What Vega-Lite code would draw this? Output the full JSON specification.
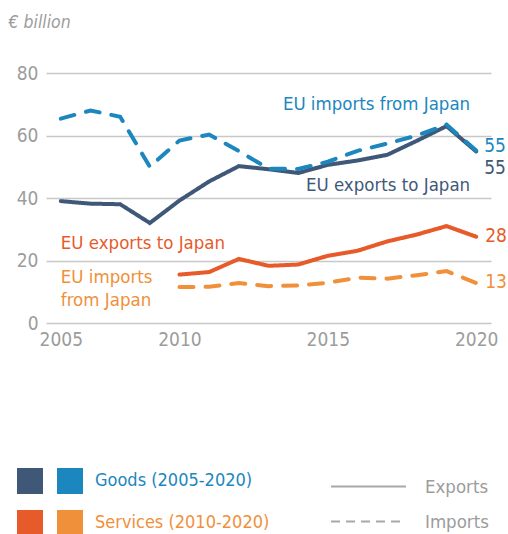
{
  "$schema": "https://vega.github.io/schema/vega-lite/v6.json",
  "width": 445,
  "height": 250,
  "autosize": {"type": "none"},
  "padding": {"left": 46, "top": 73, "right": 17, "bottom": 211},
  "background": "white",
  "config": {
    "font": "DejaVu Sans Condensed, sans-serif",
    "view": {"stroke": null}
  },
  "data": {
    "values": [
      {"product": "Goods (2005-2020)", "flow": "Exports", "series": "Goods exports", "year": 2005, "value": 39},
      {"product": "Goods (2005-2020)", "flow": "Exports", "series": "Goods exports", "year": 2006, "value": 38.2},
      {"product": "Goods (2005-2020)", "flow": "Exports", "series": "Goods exports", "year": 2007, "value": 38},
      {"product": "Goods (2005-2020)", "flow": "Exports", "series": "Goods exports", "year": 2009, "value": 32},
      {"product": "Goods (2005-2020)", "flow": "Exports", "series": "Goods exports", "year": 2010, "value": 39.2},
      {"product": "Goods (2005-2020)", "flow": "Exports", "series": "Goods exports", "year": 2011, "value": 45.3},
      {"product": "Goods (2005-2020)", "flow": "Exports", "series": "Goods exports", "year": 2012, "value": 50.2},
      {"product": "Goods (2005-2020)", "flow": "Exports", "series": "Goods exports", "year": 2013, "value": 49.2},
      {"product": "Goods (2005-2020)", "flow": "Exports", "series": "Goods exports", "year": 2014, "value": 48},
      {"product": "Goods (2005-2020)", "flow": "Exports", "series": "Goods exports", "year": 2015, "value": 50.6},
      {"product": "Goods (2005-2020)", "flow": "Exports", "series": "Goods exports", "year": 2016, "value": 52},
      {"product": "Goods (2005-2020)", "flow": "Exports", "series": "Goods exports", "year": 2017, "value": 53.8},
      {"product": "Goods (2005-2020)", "flow": "Exports", "series": "Goods exports", "year": 2018, "value": 58.3},
      {"product": "Goods (2005-2020)", "flow": "Exports", "series": "Goods exports", "year": 2019, "value": 63},
      {"product": "Goods (2005-2020)", "flow": "Exports", "series": "Goods exports", "year": 2020, "value": 54.9},
      {"product": "Goods (2005-2020)", "flow": "Imports", "series": "Goods imports", "year": 2005, "value": 65.4},
      {"product": "Goods (2005-2020)", "flow": "Imports", "series": "Goods imports", "year": 2006, "value": 68},
      {"product": "Goods (2005-2020)", "flow": "Imports", "series": "Goods imports", "year": 2007, "value": 66},
      {"product": "Goods (2005-2020)", "flow": "Imports", "series": "Goods imports", "year": 2009, "value": 50},
      {"product": "Goods (2005-2020)", "flow": "Imports", "series": "Goods imports", "year": 2010, "value": 58.4},
      {"product": "Goods (2005-2020)", "flow": "Imports", "series": "Goods imports", "year": 2011, "value": 60.3},
      {"product": "Goods (2005-2020)", "flow": "Imports", "series": "Goods imports", "year": 2012, "value": 55},
      {"product": "Goods (2005-2020)", "flow": "Imports", "series": "Goods imports", "year": 2013, "value": 49.4},
      {"product": "Goods (2005-2020)", "flow": "Imports", "series": "Goods imports", "year": 2014, "value": 49.3},
      {"product": "Goods (2005-2020)", "flow": "Imports", "series": "Goods imports", "year": 2015, "value": 51.6},
      {"product": "Goods (2005-2020)", "flow": "Imports", "series": "Goods imports", "year": 2016, "value": 55.1},
      {"product": "Goods (2005-2020)", "flow": "Imports", "series": "Goods imports", "year": 2017, "value": 57.4},
      {"product": "Goods (2005-2020)", "flow": "Imports", "series": "Goods imports", "year": 2018, "value": 60},
      {"product": "Goods (2005-2020)", "flow": "Imports", "series": "Goods imports", "year": 2019, "value": 63.5},
      {"product": "Goods (2005-2020)", "flow": "Imports", "series": "Goods imports", "year": 2020, "value": 55.2},
      {"product": "Services (2010-2020)", "flow": "Exports", "series": "Services exports", "year": 2010, "value": 15.5},
      {"product": "Services (2010-2020)", "flow": "Exports", "series": "Services exports", "year": 2011, "value": 16.3},
      {"product": "Services (2010-2020)", "flow": "Exports", "series": "Services exports", "year": 2012, "value": 20.5},
      {"product": "Services (2010-2020)", "flow": "Exports", "series": "Services exports", "year": 2013, "value": 18.3},
      {"product": "Services (2010-2020)", "flow": "Exports", "series": "Services exports", "year": 2014, "value": 18.7},
      {"product": "Services (2010-2020)", "flow": "Exports", "series": "Services exports", "year": 2015, "value": 21.5},
      {"product": "Services (2010-2020)", "flow": "Exports", "series": "Services exports", "year": 2016, "value": 23.1},
      {"product": "Services (2010-2020)", "flow": "Exports", "series": "Services exports", "year": 2017, "value": 26.1},
      {"product": "Services (2010-2020)", "flow": "Exports", "series": "Services exports", "year": 2018, "value": 28.3},
      {"product": "Services (2010-2020)", "flow": "Exports", "series": "Services exports", "year": 2019, "value": 31},
      {"product": "Services (2010-2020)", "flow": "Exports", "series": "Services exports", "year": 2020, "value": 27.6},
      {"product": "Services (2010-2020)", "flow": "Imports", "series": "Services imports", "year": 2010, "value": 11.5},
      {"product": "Services (2010-2020)", "flow": "Imports", "series": "Services imports", "year": 2011, "value": 11.6},
      {"product": "Services (2010-2020)", "flow": "Imports", "series": "Services imports", "year": 2012, "value": 12.8},
      {"product": "Services (2010-2020)", "flow": "Imports", "series": "Services imports", "year": 2013, "value": 11.8},
      {"product": "Services (2010-2020)", "flow": "Imports", "series": "Services imports", "year": 2014, "value": 12},
      {"product": "Services (2010-2020)", "flow": "Imports", "series": "Services imports", "year": 2015, "value": 12.9},
      {"product": "Services (2010-2020)", "flow": "Imports", "series": "Services imports", "year": 2016, "value": 14.5},
      {"product": "Services (2010-2020)", "flow": "Imports", "series": "Services imports", "year": 2017, "value": 14.2},
      {"product": "Services (2010-2020)", "flow": "Imports", "series": "Services imports", "year": 2018, "value": 15.3},
      {"product": "Services (2010-2020)", "flow": "Imports", "series": "Services imports", "year": 2019, "value": 16.6},
      {"product": "Services (2010-2020)", "flow": "Imports", "series": "Services imports", "year": 2020, "value": 12.8}
    ]
  },
  "layer": [
    {
      "mark": {"type": "line", "strokeWidth": 4, "strokeCap": "round", "strokeJoin": "miter"},
      "encoding": {
        "x": {
          "field": "year", "type": "ordinal",
          "scale": {"type": "point", "domain": [2005, 2006, 2007, 2009, 2010, 2011, 2012, 2013, 2014, 2015, 2016, 2017, 2018, 2019, 2020], "padding": 0.5},
          "axis": {"values": [2005, 2010, 2015, 2020], "title": null, "labelAngle": 0, "ticks": false, "domain": false, "grid": false, "labelFontSize": 19, "labelColor": "#9c9c9c", "labelPadding": 7}
        },
        "y": {
          "field": "value", "type": "quantitative",
          "scale": {"domain": [0, 80], "nice": false, "zero": true},
          "axis": {"values": [0, 20, 40, 60, 80], "ticks": false, "domain": false, "grid": true, "gridColor": "#c8c8c8", "gridWidth": 1.5, "labelFontSize": 19, "labelColor": "#9c9c9c", "labelPadding": 8, "title": "€ billion", "titleAngle": 0, "titleX": -38, "titleY": -51, "titleAlign": "left", "titleBaseline": "middle", "titleFontStyle": "italic", "titleFontWeight": "normal", "titleFontSize": 17.5, "titleColor": "#9c9c9c"}
        },
        "color": {
          "field": "series", "type": "nominal",
          "scale": {"domain": ["Goods exports", "Goods imports", "Services exports", "Services imports"], "range": ["#3f5878", "#1b87be", "#e75b2b", "#f0903a"]},
          "legend": null
        },
        "strokeDash": {
          "field": "flow", "type": "nominal",
          "scale": {"domain": ["Exports", "Imports"], "range": [[1, 0], [14, 12]]},
          "legend": null
        }
      }
    },
    {
      "mark": {"type": "line", "opacity": 0},
      "encoding": {
        "x": {"field": "year", "type": "ordinal"},
        "y": {"field": "value", "type": "quantitative"},
        "detail": {"field": "series"},
        "strokeDash": {
          "field": "flow", "type": "nominal",
          "scale": {"domain": ["Exports", "Imports"], "range": [[1, 0], [9, 6]]},
          "legend": {
            "title": null, "orient": "none", "legendX": 309, "legendY": 400, "padding": 0,
            "symbolType": "M-3,0H3", "symbolSize": 625, "symbolStrokeColor": "#a8a8a8", "symbolStrokeWidth": 1.8, "symbolFillColor": "transparent", "symbolOpacity": 1,
            "labelOffset": 43, "labelFontSize": 18.5, "labelColor": "#9c9c9c", "rowPadding": 12
          }
        }
      }
    },
    {
      "transform": [{"filter": "datum.flow === 'Exports'"}],
      "mark": {"type": "point", "opacity": 0, "filled": true},
      "encoding": {
        "x": {"field": "year", "type": "ordinal"},
        "y": {"field": "value", "type": "quantitative"},
        "fill": {
          "field": "product", "type": "nominal",
          "scale": {"domain": ["Goods (2005-2020)", "Services (2010-2020)"], "range": ["#3f5878", "#e75b2b"]},
          "legend": {"title": null, "orient": "none", "legendX": -29, "legendY": 395, "padding": 0, "symbolType": "square", "symbolSize": 676, "symbolOpacity": 1, "symbolStrokeWidth": 0, "rowPadding": 16, "labelExpr": "''", "labelOffset": 0}
        }
      }
    },
    {
      "transform": [{"filter": "datum.flow === 'Imports'"}],
      "mark": {"type": "point", "opacity": 0, "filled": true},
      "encoding": {
        "x": {"field": "year", "type": "ordinal"},
        "y": {"field": "value", "type": "quantitative"},
        "fill": {
          "field": "product", "type": "nominal",
          "scale": {"domain": ["Goods (2005-2020)", "Services (2010-2020)"], "range": ["#1b87be", "#f0903a"]},
          "legend": {"title": null, "orient": "none", "legendX": 11, "legendY": 395, "padding": 0, "symbolType": "square", "symbolSize": 676, "symbolOpacity": 1, "symbolStrokeWidth": 0, "rowPadding": 16, "labelOffset": 12, "labelFontSize": 18, "labelLimit": 300,
            "encode": {"labels": {"update": {"fill": {"signal": "datum.value === 'Goods (2005-2020)' ? '#1b87be' : '#f0903a'"}}}}}
        }
      }
    },
    {
      "transform": [{"filter": "datum.year === 2020 && datum.series === 'Goods imports'"}],
      "mark": {"type": "text", "align": "left", "baseline": "middle", "dx": 8, "dy": -5, "fontSize": 19},
      "encoding": {
        "x": {"field": "year", "type": "ordinal"},
        "y": {"field": "value", "type": "quantitative"},
        "text": {"field": "value", "type": "quantitative", "format": ".0f"},
        "color": {"field": "series", "type": "nominal", "legend": null}
      }
    },
    {
      "transform": [{"filter": "datum.year === 2020 && datum.series === 'Goods exports'"}],
      "mark": {"type": "text", "align": "left", "baseline": "middle", "dx": 8, "dy": 17, "fontSize": 19},
      "encoding": {
        "x": {"field": "year", "type": "ordinal"},
        "y": {"field": "value", "type": "quantitative"},
        "text": {"field": "value", "type": "quantitative", "format": ".0f"},
        "color": {"field": "series", "type": "nominal", "legend": null}
      }
    },
    {
      "transform": [{"filter": "datum.year === 2020 && datum.product === 'Services (2010-2020)'"}],
      "mark": {"type": "text", "align": "left", "baseline": "middle", "dx": 9, "dy": -1, "fontSize": 19},
      "encoding": {
        "x": {"field": "year", "type": "ordinal"},
        "y": {"field": "value", "type": "quantitative"},
        "text": {"field": "value", "type": "quantitative", "format": ".0f"},
        "color": {"field": "series", "type": "nominal", "legend": null}
      }
    },
    {
      "data": {"values": [
        {"label": "EU imports from Japan", "series": "Goods imports", "year": 2020, "value": 70},
        {"label": "EU exports to Japan", "series": "Goods exports", "year": 2020, "value": 44.2}
      ]},
      "mark": {"type": "text", "align": "right", "baseline": "middle", "dx": -6, "fontSize": 18.5},
      "encoding": {
        "x": {"field": "year", "type": "ordinal"},
        "y": {"field": "value", "type": "quantitative"},
        "text": {"field": "label"},
        "color": {"field": "series", "type": "nominal", "legend": null}
      }
    },
    {
      "data": {"values": [
        {"label": "EU exports to Japan", "series": "Services exports", "year": 2005, "value": 25.6},
        {"label": "EU imports\nfrom Japan", "series": "Services imports", "year": 2005, "value": 14.7}
      ]},
      "mark": {"type": "text", "align": "left", "baseline": "middle", "dx": 0, "fontSize": 18.5, "lineBreak": "\n", "lineHeight": 23},
      "encoding": {
        "x": {"field": "year", "type": "ordinal"},
        "y": {"field": "value", "type": "quantitative"},
        "text": {"field": "label"},
        "color": {"field": "series", "type": "nominal", "legend": null}
      }
    }
  ],
  "resolve": {
    "scale": {"fill": "independent", "strokeDash": "independent"},
    "legend": {"fill": "independent", "strokeDash": "independent"}
  }
}
